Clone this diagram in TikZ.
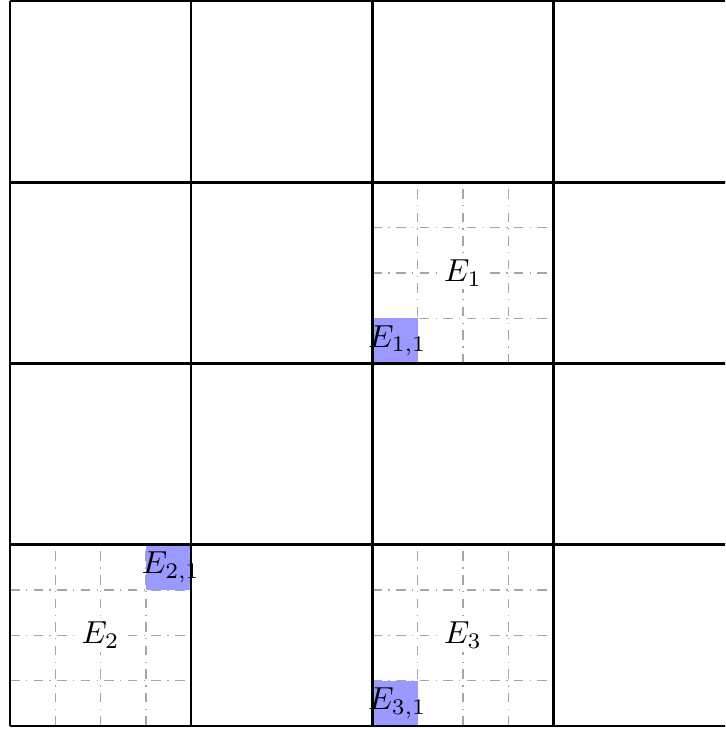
\documentclass[tikz,border=0pt]{standalone}
\usepackage{xcolor}
\usepackage{tikz}
\usetikzlibrary{positioning}
\tikzset{
  coarse/.style = {line width=0.8pt},
  fine/.style   = {gray!70, thin, dash dot},
  subcell/.style = {fill=blue!40, draw=none},
  elbl/.style   = {fill=white, inner sep=1pt},
  slbl/.style   = {inner sep=0pt},
}

\begin{document}
\begin{tikzpicture}[x=0.5cm, y=0.5cm]

  \clip (-0.22,-0.066) rectangle (15.78,16.022);

  % refined elements
  \foreach \cx/\cy in {8/8, 0/0, 8/0}
    \foreach \k in {1,2,3} {
      \draw[fine] (\cx+\k,\cy) -- (\cx+\k,\cy+4);
      \draw[fine] (\cx,\cy+\k) -- (\cx+4,\cy+\k);
    }

  % marked sub-cells
  \fill[subcell] (8,8) rectangle (9,9);
  \fill[subcell] (3,3) rectangle (4,4);
  \fill[subcell] (8,0) rectangle (9,1);

  \node[elbl] (e1) at (10,10) {$E_1$};
  \node[elbl] (e2) at (2,2)   {$E_2$};
  \node[elbl] (e3) at (10,2)  {$E_3$};

  \node[slbl] (e11) at (8.55,8.5) {$E_{1,1}$};
  \node[slbl] (e21) at (3.55,3.5) {$E_{2,1}$};
  \node[slbl] (e31) at (8.55,0.5) {$E_{3,1}$};

  % coarse mesh
  \foreach \i in {0,4,...,16} {
    \draw[coarse] (\i,0) -- (\i,16);
    \draw[coarse] (0,\i) -- (16,\i);
  }

\end{tikzpicture}
\end{document}
